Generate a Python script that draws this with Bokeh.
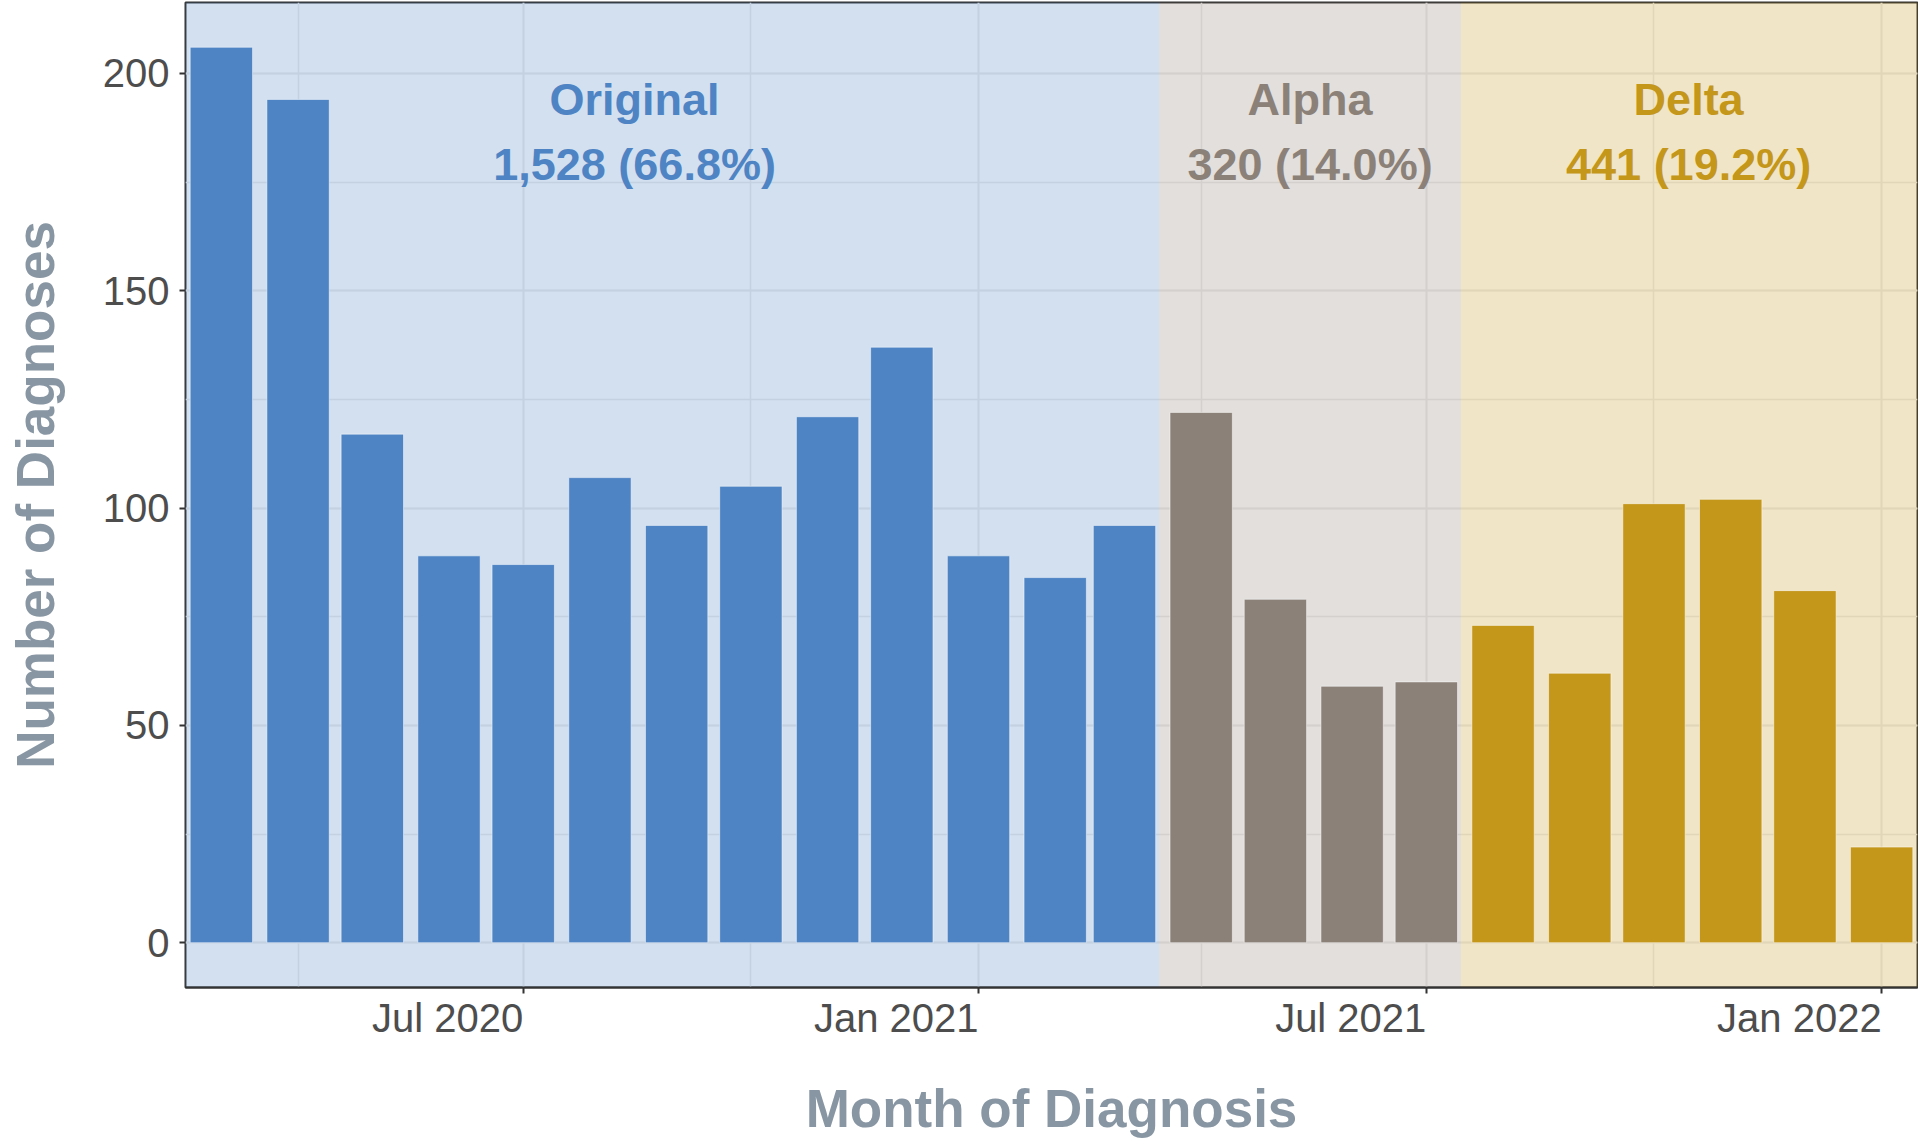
import pandas as pd
from bokeh.plotting import figure
from bokeh.models import (Range1d, FixedTicker, DatetimeAxis,
                          ColumnDataSource, SingleIntervalTicker)
from bokeh.core.properties import value
from bokeh.embed import file_html
from bokeh.resources import INLINE

# ---------------- data ----------------
months = ["2020-03-01", "2020-04-01", "2020-05-01", "2020-06-01", "2020-07-01",
          "2020-08-01", "2020-09-01", "2020-10-01", "2020-11-01", "2020-12-01",
          "2021-01-01", "2021-02-01", "2021-03-01",
          "2021-04-01", "2021-05-01", "2021-06-01", "2021-07-01",
          "2021-08-01", "2021-09-01", "2021-10-01", "2021-11-01", "2021-12-01",
          "2022-01-01"]
diagnoses = [206, 194, 117, 89, 87, 107, 96, 105, 121, 137, 89, 84, 96,
             122, 79, 59, 60,
             73, 62, 101, 102, 81, 22]
month_variant = ["Original", "Original", "Original", "Original", "Original",
                 "Original", "Original", "Original", "Original", "Original",
                 "Original", "Original", "Original",
                 "Alpha", "Alpha", "Alpha", "Alpha",
                 "Delta", "Delta", "Delta", "Delta", "Delta", "Delta"]

variants = ["Original", "Alpha", "Delta"]
variant_start = ["2020-02-01", "2021-03-15", "2021-07-15"]
variant_end = ["2021-03-15", "2021-07-15", "2022-02-15"]
variant_labels = ["1,528 (66.8%)", "320 (14.0%)", "441 (19.2%)"]
variant_label_x = ["2020-08-15", "2021-05-15", "2021-10-15"]
variant_colors = {"Original": "#4E84C4", "Alpha": "#8B8178", "Delta": "#C4961A"}

x_ticks = ["2020-07-01", "2021-01-01", "2021-07-01", "2022-01-01"]
x_tick_labels = ["Jul 2020", "Jan 2021", "Jul 2021", "Jan 2022"]
x_minor = ["2020-04-01", "2020-10-01", "2021-04-01", "2021-10-01"]

# ---------------- helpers ----------------
def ms(d):
    return int(pd.Timestamp(d).value // 10**6)

DAY = 86400000

X_START = ms("2020-02-15 12:00")
X_END = ms("2022-01-15 12:00")
W, H = 1918, 1142
LEFT, RIGHT, TOP, BOTTOM = 185, 1, 2, 155
TICK_FONT_PX = 40

bars = ColumnDataSource(dict(
    x=pd.to_datetime(months),
    top=diagnoses,
    color=[variant_colors[v] for v in month_variant],
))
spans = ColumnDataSource(dict(
    left=pd.to_datetime(variant_start),
    right=pd.to_datetime(variant_end),
    color=[variant_colors[v] for v in variants],
))
labels = ColumnDataSource(dict(
    x=pd.to_datetime(variant_label_x),
    name=variants,
    count=variant_labels,
    color=[variant_colors[v] for v in variants],
))

p = figure(width=W, height=H, x_axis_type="datetime",
           output_backend="svg", toolbar_location=None,
           x_range=Range1d(X_START, X_END),
           y_range=Range1d(-10.3, 216.3),
           min_border_left=LEFT, min_border_right=RIGHT,
           min_border_top=TOP, min_border_bottom=BOTTOM)

p.background_fill_color = "white"
p.border_fill_color = "white"
p.outline_line_color = "#333333"
p.outline_line_width = 2

# variant background shading
p.quad(left="left", right="right", bottom=-100, top=1000, source=spans,
       fill_color="color", fill_alpha=0.25, line_color=None)

# bars
p.vbar(x="x", top="top", bottom=0, width=int(25.2 * DAY), source=bars,
       fill_color="color", line_color="white", line_width=1, line_alpha=0.5)

# variant labels
p.text(x="x", y=194, text="name", source=labels, text_color="color",
       text_font=value("Liberation Sans"), text_font_style="bold",
       text_font_size="45px", text_align="center", text_baseline="middle")
p.text(x="x", y=179, text="count", source=labels, text_color="color",
       text_font=value("Liberation Sans"), text_font_style="bold",
       text_font_size="45px", text_align="center", text_baseline="middle")

# ---- x axis A: tick marks + grid positions (labels not painted) ----
xa = p.xaxis[0]
xa.ticker = FixedTicker(ticks=[ms(t) for t in x_ticks],
                        minor_ticks=[ms(t) for t in x_minor])
xa.major_label_text_color = None
xa.major_label_text_font_size = "1px"
xa.major_label_standoff = 0
xa.major_tick_line_color = "#333333"
xa.major_tick_line_width = 2
xa.major_tick_out = 6
xa.major_tick_in = 0
xa.minor_tick_line_color = None
xa.axis_line_color = "#333333"
xa.axis_line_width = 2
xa.axis_label = None

# ---- x axis B: labels right-aligned to the ticks (as in ggplot hjust=1) ----
px_per_ms = (W - LEFT - RIGHT) / (X_END - X_START)
char_em = {"J": 0.5, "u": 0.556, "l": 0.222, "a": 0.556, "n": 0.556, " ": 0.278}
def label_width_px(s):
    return sum(char_em.get(c, 0.556) for c in s) * TICK_FONT_PX

label_pos = [int(ms(t) - label_width_px(s) / 2 / px_per_ms)
             for t, s in zip(x_ticks, x_tick_labels)]
xb = DatetimeAxis(ticker=FixedTicker(ticks=label_pos),
                  major_label_overrides=dict(zip(label_pos, x_tick_labels)))
xb.major_tick_line_color = None
xb.major_tick_out = 0
xb.major_tick_in = 0
xb.minor_tick_line_color = None
xb.axis_line_color = None
xb.major_label_standoff = 2
xb.major_label_text_font = "Liberation Sans"
xb.major_label_text_font_size = f"{TICK_FONT_PX}px"
xb.major_label_text_color = "#4D4D4D"
xb.axis_label = "Month of Diagnosis"
xb.axis_label_standoff = 36
p.add_layout(xb, "below")

# ---- y axis ----
ya = p.yaxis[0]
ya.ticker = SingleIntervalTicker(interval=50, num_minor_ticks=2)
ya.axis_label = "Number of Diagnoses"
ya.major_label_text_font = "Liberation Sans"
ya.major_label_text_font_size = f"{TICK_FONT_PX}px"
ya.major_label_text_color = "#4D4D4D"
ya.major_tick_line_color = "#333333"
ya.major_tick_line_width = 2
ya.major_tick_out = 6
ya.major_tick_in = 0
ya.minor_tick_line_color = None
ya.major_label_standoff = 10
ya.axis_line_color = None
ya.axis_label_standoff = 35

for ax in (xb, ya):
    ax.axis_label_text_font = "Liberation Sans"
    ax.axis_label_text_font_style = "bold"
    ax.axis_label_text_font_size = "53px"
    ax.axis_label_text_color = "#8896A3"

# grids (underlay: drawn beneath the translucent shading)
for g in (p.xgrid, p.ygrid):
    g.grid_line_color = "#EBEBEB"
    g.grid_line_width = 2
    g.minor_grid_line_color = "#EBEBEB"
    g.minor_grid_line_width = 1.5

open("out.html", "w").write(file_html(p, INLINE))
